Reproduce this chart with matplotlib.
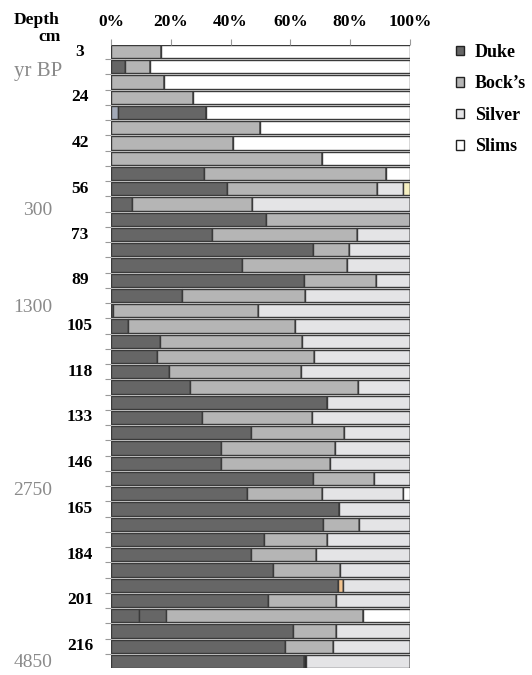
import numpy as np
import matplotlib
matplotlib.use("Agg")
import matplotlib.pyplot as plt
from matplotlib.patches import Patch
import matplotlib.transforms as mtransforms

plt.rcParams['font.family'] = ['Liberation Serif', 'DejaVu Serif']

# ---- data (percent widths per sample, top to bottom) ----
n_rows = 41
other_blue = [0, 0, 0, 0, 2.3] + [0] * 36
duke = [0, 4.8, 0, 0, 29.4, 0, 0, 0, 31.1, 38.7,
        7.0, 51.8, 33.7, 67.4, 43.9, 64.5, 23.8, 0.8, 5.8, 16.5,
        15.5, 19.5, 26.4, 72.3, 30.3, 46.9, 36.7, 36.7, 67.4, 45.4,
        76.3, 71.0, 51.2, 46.9, 54.1, 75.8, 52.4, 9.5, 61.0, 58.2, 64.5]
duke_b = [0] * 37 + [8.9, 0, 0, 0]
bocks = [16.6, 8.1, 17.7, 27.3, 0, 49.8, 40.9, 70.5, 60.9, 50.4,
         40.3, 48.2, 48.5, 12.3, 35.1, 24.1, 41.1, 48.5, 55.8, 47.5,
         52.4, 44.0, 56.3, 0, 36.8, 31.0, 38.1, 36.5, 20.6, 25.1,
         0, 12.0, 21.1, 21.7, 22.5, 0, 22.9, 65.8, 14.3, 16.2, 0]
other_orange = [0] * 35 + [1.9] + [0] * 5
other_black = [0] * 40 + [0.7]
silver = [0, 0, 0, 0, 0, 0, 0, 0, 0, 8.5,
          52.7, 0, 17.8, 20.3, 21.0, 11.4, 35.1, 50.7, 38.4, 36.0,
          32.1, 36.5, 17.3, 27.7, 32.9, 22.1, 25.2, 26.8, 12.0, 27.3,
          23.7, 17.0, 27.7, 31.4, 23.4, 22.3, 24.7, 0, 24.7, 25.6, 34.8]
other_beige = [0] * 9 + [2.4] + [0] * 31
slims = [83.4, 87.1, 82.3, 72.7, 68.3, 50.2, 59.1, 29.5, 8.0, 0,
         0, 0, 0, 0, 0, 0, 0, 0, 0, 0,
         0, 0, 0, 0, 0, 0, 0, 0, 0, 2.2,
         0, 0, 0, 0, 0, 0, 0, 15.8, 0, 0, 0]

depth_labels = ['3', '24', '42', '56', '73', '89', '105', '118', '133',
                '146', '165', '184', '201', '216']
depth_rows = [0, 3, 6, 9, 12, 15, 18, 21, 24, 27, 30, 33, 36, 39]
age_labels = ['300', '1300', '2750', '4850']
age_rows = [10.4, 16.8, 28.8, 40.1]
x_ticks = [0, 20, 40, 60, 80, 100]
x_ticklabels = ['0%', '20%', '40%', '60%', '80%', '100%']

series = [
    ('_blue', other_blue, '#a3aab8'),
    ('Duke', duke, '#666666'),
    ('_dukeb', duke_b, '#666666'),
    ("Bock\u2019s", bocks, '#b5b5b5'),
    ('_orange', other_orange, '#f3c48f'),
    ('_black', other_black, '#222222'),
    ('Silver', silver, '#e4e4e6'),
    ('_beige', other_beige, '#f6f0c2'),
    ('Slims', slims, '#ffffff'),
]

W, H = 532, 675
fig = plt.figure(figsize=(W / 100, H / 100), dpi=100)
ax = fig.add_axes([111 / W, 1 - 668 / H, 299 / W, 623 / H])

y = np.arange(n_rows)
left = np.zeros(n_rows)
bh = 0.86
for name, vals, col in series:
    v = np.array(vals, dtype=float)
    ax.barh(y, v, left=left, height=bh, color=col, edgecolor='#3a3a3a',
            linewidth=1.0)
    left += v

ax.set_xlim(0, 100)
ax.set_ylim(n_rows - 1 + bh / 2, -bh / 2)
for s in ax.spines.values():
    s.set_visible(False)

ax.xaxis.tick_top()
ax.set_xticks(x_ticks)
ax.set_xticklabels(x_ticklabels, fontsize=12.5, fontweight='bold')
ax.tick_params(axis='x', length=4, width=0.8, color='#999999', pad=7)
ax.set_yticks(np.arange(n_rows - 1) + 0.5)
ax.set_yticklabels([])
ax.tick_params(axis='y', length=4, width=0.8, color='#999999')

tr = mtransforms.blended_transform_factory(fig.transFigure, ax.transData)
for lab, r in zip(depth_labels, depth_rows):
    fig.text(80 / W, r, lab, transform=tr, ha='center', va='center',
             fontsize=12.5, fontweight='bold')
for lab, r in zip(age_labels, age_rows):
    fig.text(52 / W, r, lab, transform=tr, ha='right', va='center',
             fontsize=14, color='#8a8a8a')
fig.text(62 / W, 1.3, 'yr BP', transform=tr, ha='right', va='center',
         fontsize=15, color='#8a8a8a')

fig.text(37 / W, 1 - 20 / H, 'Depth', ha='center', va='center',
         fontsize=12.5, fontweight='bold')
fig.text(61 / W, 1 - 37 / H, 'cm', ha='right', va='center',
         fontsize=12.5, fontweight='bold')

handles = [Patch(facecolor=col, edgecolor='#222222', linewidth=1.0, label=name)
           for name, vals, col in series if not name.startswith('_')]
fig.legend(handles=handles, loc='upper left',
           bbox_to_anchor=(456 / W, 1 - 44 / H), frameon=False,
           borderpad=0, borderaxespad=0,
           handlelength=0.45, handleheight=0.45, handletextpad=0.6,
           labelspacing=0.8, prop={'weight': 'bold', 'size': 13})

fig.savefig('out.png', dpi=100)
